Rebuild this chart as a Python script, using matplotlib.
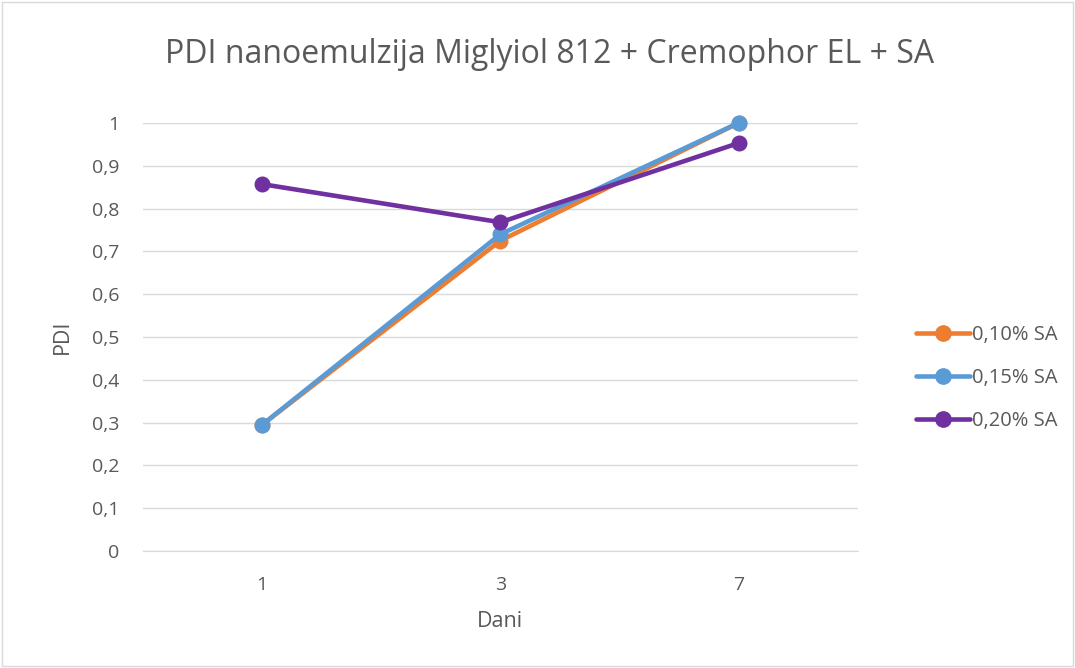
import matplotlib.pyplot as plt
from matplotlib.patches import Rectangle

plt.rcParams['font.family'] = ['Open Sans', 'DejaVu Sans']

dani = ['1', '3', '7']
sa_010 = [0.295, 0.725, 1.0]
sa_015 = [0.295, 0.740, 1.0]
sa_020 = [0.857, 0.768, 0.953]
labels = ['0,10% SA', '0,15% SA', '0,20% SA']
colors = ['#ED7D31', '#5B9BD5', '#7030A0']
yticks = [0, 0.1, 0.2, 0.3, 0.4, 0.5, 0.6, 0.7, 0.8, 0.9, 1.0]

text_color = '#595959'
grid_color = '#d9d9d9'

fig = plt.figure(figsize=(10.75, 6.68), dpi=100)
ax = fig.add_axes([0.133, 0.175, 0.665, 0.641])

x = range(len(dani))
for vals, lab, col in zip([sa_010, sa_015, sa_020], labels, colors):
    ax.plot(x, vals, color=col, linewidth=3.3, marker='o', markersize=10.5,
            label=lab, solid_capstyle='round', clip_on=False)

ax.set_xlim(-0.5, 2.5)
ax.set_ylim(0, 1)
ax.set_xticks(list(x))
ax.set_xticklabels(dani)
ax.set_yticks(yticks)
ax.set_yticklabels([f'{v:g}'.replace('.', ',') for v in yticks])
ax.tick_params(length=0, labelsize=14, colors=text_color)
ax.tick_params(axis='x', pad=18)
ax.tick_params(axis='y', pad=17)
ax.grid(axis='y', color=grid_color, linewidth=1)
ax.set_axisbelow(True)
for s in ['top', 'right', 'left']:
    ax.spines[s].set_visible(False)
ax.spines['bottom'].set_color(grid_color)

ax.set_xlabel('Dani', fontsize=15.5, color=text_color, labelpad=12)
ax.set_ylabel('PDI', fontsize=15.5, color=text_color, labelpad=14)
fig.text(0.511, 0.918, 'PDI nanoemulzija Miglyiol 812 + Cremophor EL + SA',
         ha='center', va='center', fontsize=23, color=text_color)

fig.legend(loc='center left', bbox_to_anchor=(0.835, 0.434), frameon=False,
           fontsize=14.5, labelcolor=text_color, handlelength=2.7,
           handletextpad=0.1, labelspacing=1.15, markerscale=1.05)

fig.patches.append(Rectangle((0.002, 0.003), 0.996, 0.994, transform=fig.transFigure,
                             fill=False, edgecolor=grid_color, linewidth=1))

fig.savefig('out.png', dpi=100)
